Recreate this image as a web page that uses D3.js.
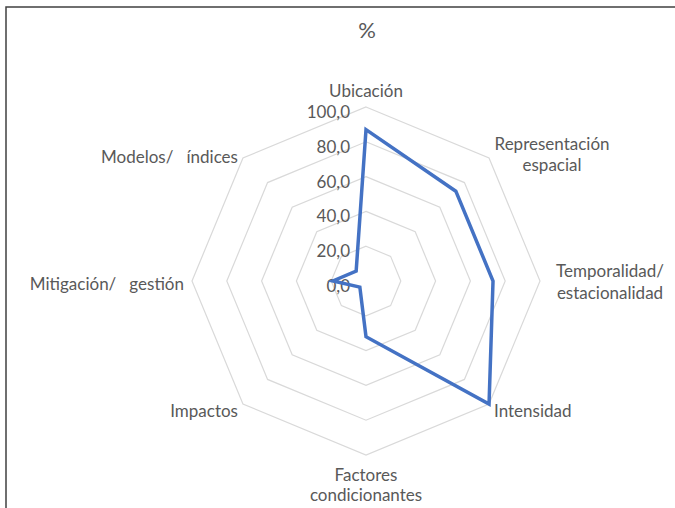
<!DOCTYPE html>
<html>
<head>
<meta charset="utf-8">
<script src="https://cdn.jsdelivr.net/npm/d3@7"></script>
<style>
    body { margin: 0; background: #fff; }
    text { font-family: Lato, "Open Sans", sans-serif; fill: #595959; }
</style>
</head>
<body>
<div id="chart"></div>
<script>
// categories (one per radar axis) and the single series
const categories = [
    ["Ubicación"],
    ["Representación", "espacial"],
    ["Temporalidad/", "estacionalidad"],
    ["Intensidad"],
    ["Factores", "condicionantes"],
    ["Impactos"],
    ["Mitigación/   gestión"],
    ["Modelos/   índices"]
]
const values = [87, 73, 73, 100, 32, 5, 19, 8]
const ticks = [0, 20, 40, 60, 80, 100]
const tickLabels = ["0,0", "20,0", "40,0", "60,0", "80,0", "100,0"]

const width = 675, height = 508
const cx = 366, cy = 281, radius = 174

const svg = d3.select("#chart").append("svg")
    .attr("width", width)
    .attr("height", height)

// chart border
svg.append("rect")
    .attr("x", 6).attr("y", 7)
    .attr("width", 680).attr("height", 520)
    .attr("fill", "none")
    .attr("stroke", "#404040")
    .attr("stroke-width", 1.5)

svg.append("text")
    .attr("x", cx + 1).attr("y", 38)
    .attr("text-anchor", "middle")
    .style("font-size", "22px")
    .text("%")

const r = d3.scaleLinear().domain([0, 100]).range([0, radius])
const angle = d3.scaleLinear().domain([0, categories.length]).range([0, 2 * Math.PI])

const px = (i, v) => cx + r(v) * Math.sin(angle(i))
const py = (i, v) => cy - r(v) * Math.cos(angle(i))

const g = svg.append("g")

// grid rings (octagons)
ticks.filter(t => t > 0).forEach(t => {
    g.append("polygon")
        .attr("points", categories.map((c, i) => `${px(i, t)},${py(i, t)}`).join(" "))
        .attr("fill", "none")
        .attr("stroke", "#d9d9d9")
        .attr("stroke-width", 1.2)
})

// tick labels
g.selectAll(".tick")
    .data(ticks)
    .join("text")
    .attr("x", cx - 16)
    .attr("y", d => cy - r(d) + 11)
    .attr("text-anchor", "end")
    .style("font-size", "17px")
    .text((d, i) => tickLabels[i])

// category label offsets from the 100-ring vertex (first line baseline)
const labelPos = [
    {dx: 0, dy: -10, anchor: "middle", lh: 21},
    {dx: 63, dy: -8, anchor: "middle", lh: 21},
    {dx: 70, dy: -4, anchor: "middle", lh: 22},
    {dx: 5, dy: 13, anchor: "start", lh: 21},
    {dx: 0, dy: 26, anchor: "middle", lh: 20},
    {dx: -5, dy: 13, anchor: "end", lh: 21},
    {dx: -8, dy: 9, anchor: "end", lh: 21},
    {dx: -5, dy: 5, anchor: "end", lh: 21}
]

categories.forEach((lines, i) => {
    const p = labelPos[i]
    const x = px(i, 100) + p.dx
    const y0 = py(i, 100) + p.dy
    const t = svg.append("text")
        .attr("text-anchor", p.anchor)
        .style("font-size", "17px")
    lines.forEach((l, k) => {
        t.append("tspan")
            .attr("x", x)
            .attr("y", y0 + k * p.lh)
            .style("white-space", "pre")
            .text(l)
    })
})

// data series
const line = d3.line()
    .x((d, i) => px(i, d))
    .y((d, i) => py(i, d))
    .curve(d3.curveLinearClosed)

g.append("path")
    .datum(values)
    .attr("d", line)
    .attr("fill", "none")
    .attr("stroke", "#4472c4")
    .attr("stroke-width", 3.5)
    .attr("stroke-linejoin", "miter")
</script>
</body>
</html>
